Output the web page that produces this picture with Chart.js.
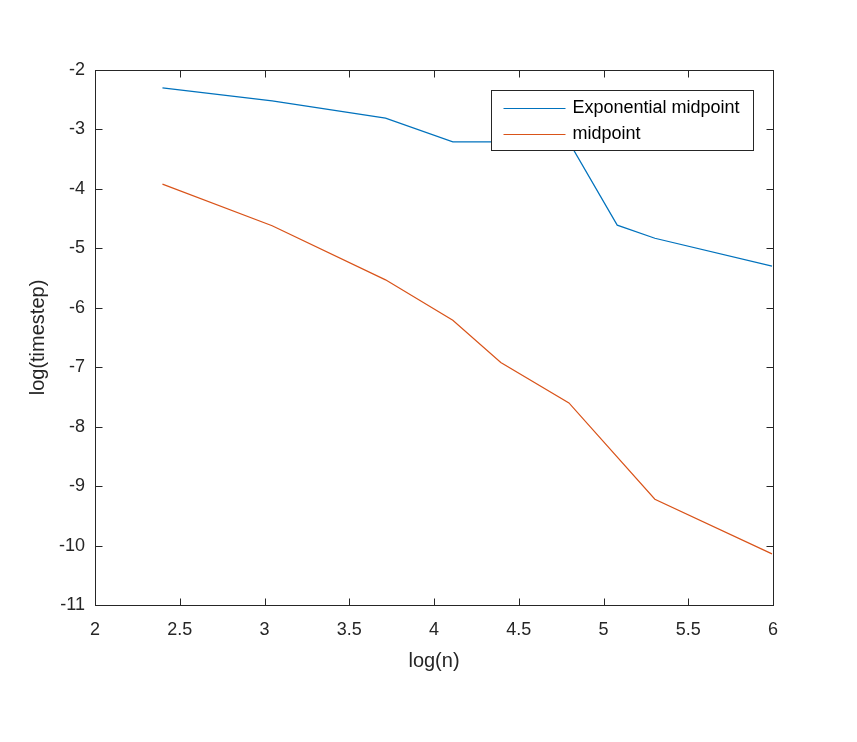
<!DOCTYPE html>
<html>
<head>
<meta charset="utf-8">
<script src="https://cdn.jsdelivr.net/npm/chart.js@4.4.1/dist/chart.umd.min.js"></script>
<style>
  body { margin: 0; background: #fff; }
</style>
</head>
<body>
<canvas id="c" width="857" height="742"></canvas>
<script>
// log(n) values for each run and the resulting log(timestep)
const logNExp = [2.398, 3.045, 3.714, 4.111, 4.394, 4.796, 5.081, 5.303, 5.994];
const expMidpoint = [-2.30, -2.52, -2.81, -3.21, -3.21, -3.21, -4.61, -4.83, -5.30];
const logNMid = [2.398, 3.045, 3.714, 4.111, 4.394, 4.796, 5.303, 5.994];
const midpoint = [-3.92, -4.62, -5.53, -6.21, -6.92, -7.60, -9.22, -10.14];
const seriesNames = ['Exponential midpoint', 'midpoint'];

const ink = '#262626';
const fontFam = '"Liberation Sans", Arial, Helvetica, sans-serif';

function pts(xs, ys) {
  return xs.map((v, i) => ({ x: v, y: ys[i] }));
}

// matlab style box, inward ticks and legend inside the axes
const matlabBox = {
  id: 'matlabBox',
  afterDraw(chart) {
    const ctx = chart.ctx;
    const a = chart.chartArea;
    const sx = chart.scales.x, sy = chart.scales.y;
    ctx.save();
    ctx.strokeStyle = ink;
    ctx.lineWidth = 1;
    const L = Math.round(a.left) + 0.5, R = Math.round(a.right) + 0.5;
    const T = Math.round(a.top) + 0.5, B = Math.round(a.bottom) + 0.5;
    ctx.strokeRect(L, T, R - L, B - T);
    ctx.beginPath();
    sx.ticks.forEach(t => {
      const p = Math.round(sx.getPixelForValue(t.value)) + 0.5;
      ctx.moveTo(p, B); ctx.lineTo(p, B - 7);
      ctx.moveTo(p, T); ctx.lineTo(p, T + 7);
    });
    sy.ticks.forEach(t => {
      const p = Math.round(sy.getPixelForValue(t.value)) + 0.5;
      ctx.moveTo(L, p); ctx.lineTo(L + 7, p);
      ctx.moveTo(R, p); ctx.lineTo(R - 7, p);
    });
    ctx.stroke();

    // legend
    const bx = 491.5, by = 90.5, bw = 262, bh = 60;
    ctx.fillStyle = '#fff';
    ctx.fillRect(bx, by, bw, bh);
    ctx.strokeRect(bx, by, bw, bh);
    ctx.font = '18px ' + fontFam;
    ctx.textBaseline = 'middle';
    chart.data.datasets.forEach((ds, i) => {
      const yy = Math.round(by + 17 + i * 26) + 0.5;
      ctx.strokeStyle = ds.borderColor;
      ctx.beginPath();
      ctx.moveTo(bx + 12, yy); ctx.lineTo(bx + 74, yy);
      ctx.stroke();
      ctx.fillStyle = '#000';
      ctx.fillText(ds.label, bx + 81, yy);
    });
    ctx.restore();
  }
};

new Chart(document.getElementById('c').getContext('2d'), {
  type: 'scatter',
  data: {
    datasets: [{
      label: seriesNames[0],
      data: pts(logNExp, expMidpoint),
      borderColor: '#0072BD',
      backgroundColor: '#0072BD',
      showLine: true,
      borderWidth: 1.2,
      pointRadius: 0,
      tension: 0
    }, {
      label: seriesNames[1],
      data: pts(logNMid, midpoint),
      borderColor: '#D95319',
      backgroundColor: '#D95319',
      showLine: true,
      borderWidth: 1.2,
      pointRadius: 0,
      tension: 0
    }]
  },
  options: {
    responsive: false,
    animation: false,
    layout: { padding: { top: 70, right: 84, left: 0, bottom: 0 } },
    plugins: {
      legend: { display: false },
      tooltip: { enabled: false }
    },
    scales: {
      x: {
        type: 'linear',
        min: 2, max: 6,
        afterFit: s => { s.height = 137; },
        grid: { display: false, drawTicks: false },
        border: { display: false },
        ticks: {
          stepSize: 0.5, autoSkip: false, maxRotation: 0, padding: 14, color: ink,
          font: { family: fontFam, size: 18 },
          callback: v => String(Math.round(v * 10) / 10)
        },
        title: { display: true, text: 'log(n)', color: ink, font: { family: fontFam, size: 20 }, padding: { top: 0, bottom: 69 } }
      },
      y: {
        type: 'linear',
        min: -11, max: -2,
        afterFit: s => { s.width = 95; },
        grid: { display: false, drawTicks: false },
        border: { display: false },
        ticks: { stepSize: 1, autoSkip: false, padding: 10, color: ink, font: { family: fontFam, size: 18 } },
        title: { display: true, text: 'log(timestep)', color: ink, font: { family: fontFam, size: 20 }, padding: { top: 26, bottom: 0 } }
      }
    }
  },
  plugins: [matlabBox]
});
</script>
</body>
</html>
